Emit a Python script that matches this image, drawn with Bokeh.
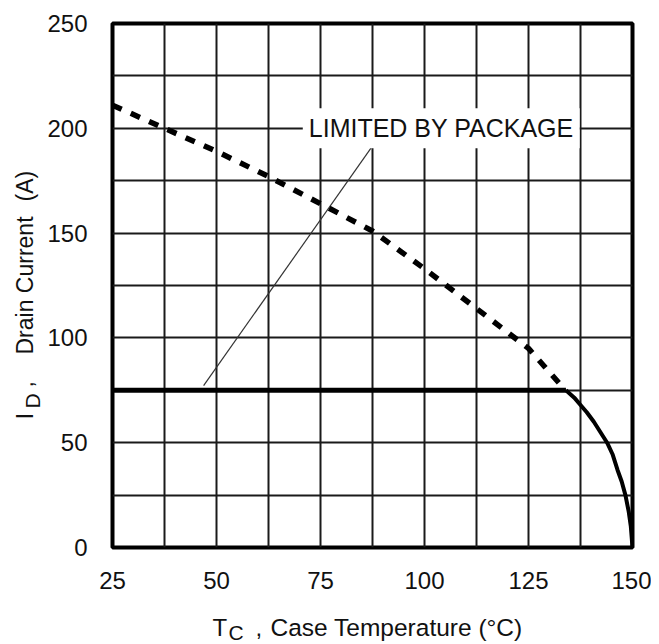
import math
from bokeh.plotting import figure
from bokeh.layouts import column, row
from bokeh.models import Label, Range1d, FixedTicker
from bokeh.core.properties import value
from bokeh.embed import file_html
from bokeh.resources import INLINE

# ---- data ----
# die-limited (dashed) current vs case temperature
die_temp = [25, 37.5, 50, 62.5, 75, 87.5, 100, 112.5, 125, 133]
die_current = [211, 200, 189, 177, 164, 151, 133, 114, 95, 77]

# package-limited flat line
pkg_temp = [25, 134]
pkg_current = [75, 75]

# derating curve down to Tj max
curve_temp = [134, 136, 137.5, 139, 140.7, 142.3, 143.9, 145.2, 146.4, 147.4, 148.3, 149.1, 149.6, 150]
curve_current = [75, 71.5, 68, 64.5, 60, 55, 50, 44.5, 37, 31.5, 25, 17, 10, 0]

# annotation pointer line
pointer_temp = [46.9, 87.3]
pointer_current = [77.2, 191]

x_ticks = [25, 50, 75, 100, 125, 150]
y_ticks = [0, 50, 100, 150, 200, 250]
x_grid = [37.5, 50, 62.5, 75, 87.5, 100, 112.5, 125, 137.5]
y_grid = [25, 50, 75, 100, 125, 150, 175, 200, 225]

annotation_text = "LIMITED BY PACKAGE"

FONT = "Liberation Sans"
INK = "#111111"

YL_W = 44          # width of the y-label strip
MAIN_W = 607
MAIN_H = 603
XL_H = 40
F_TOP, F_BOT = 23, 56          # frame borders (px) of the main chart
F_LEFT = 110 - YL_W
F_RIGHT = MAIN_W - F_LEFT - 522
FRAME_H = MAIN_H - F_TOP - F_BOT
SHIFT = 8                      # rendered text sits this much below the requested baseline

# ---------------- main chart ----------------
p = figure(width=MAIN_W, height=MAIN_H, title=None,
           x_range=Range1d(25, 150), y_range=Range1d(0, 250),
           output_backend="svg", toolbar_location=None,
           min_border_left=F_LEFT, min_border_right=F_RIGHT,
           min_border_top=F_TOP, min_border_bottom=F_BOT)

p.background_fill_color = "white"
p.border_fill_color = "white"
p.outline_line_color = "black"
p.outline_line_width = 4

for ax in (p.xaxis[0], p.yaxis[0]):
    ax.major_tick_line_color = None
    ax.minor_tick_line_color = None
    ax.major_tick_out = 0
    ax.major_tick_in = 0
    ax.minor_tick_out = 0
    ax.minor_tick_in = 0
    ax.axis_line_color = None
    ax.major_label_text_font = FONT
    ax.major_label_text_font_size = "24px"
    ax.major_label_text_color = INK

p.xaxis.ticker = FixedTicker(ticks=x_ticks)
p.yaxis.ticker = FixedTicker(ticks=y_ticks)
p.xaxis.major_label_standoff = 24
p.yaxis.major_label_standoff = 25

p.xgrid.ticker = FixedTicker(ticks=x_grid)
p.ygrid.ticker = FixedTicker(ticks=y_grid)
for g in (p.xgrid[0], p.ygrid[0]):
    g.grid_line_color = "#1a1a1a"
    g.grid_line_width = 2
    g.grid_line_alpha = 1.0

p.line(pointer_temp, pointer_current, line_color="#333333", line_width=1.2)
p.line(die_temp, die_current, line_color="black", line_width=5.5, line_dash="10 10")
p.line(pkg_temp, pkg_current, line_color="black", line_width=5)
p.line(curve_temp, curve_current, line_color="black", line_width=4)

p.add_layout(Label(x=70.74, y=200, text=annotation_text,
                   text_font=FONT, text_font_size="25px", text_color=INK,
                   text_align="left", text_baseline="middle",
                   background_fill_color="white", padding=6))

# ---------------- y-axis label strip (frame aligned with main frame) ----------------
yl = figure(width=YL_W, height=MAIN_H, title=None,
            x_range=Range1d(0, YL_W), y_range=Range1d(0, 250),
            x_axis_type=None, y_axis_type=None,
            output_backend="svg", toolbar_location=None,
            min_border_left=0, min_border_right=0,
            min_border_top=F_TOP, min_border_bottom=F_BOT)
yl.outline_line_color = None
yl.background_fill_color = "white"
yl.border_fill_color = "white"
yl.grid.visible = False

def ytxt(px, py, s, size):
    yv = 250 - (py - F_TOP) * 250 / FRAME_H
    yl.text(x=[px - SHIFT], y=[yv], text=[s], angle=math.pi / 2,
            text_font=value(FONT), text_font_size=value(size), text_color=INK,
            text_align="left", text_baseline="alphabetic")

ytxt(32, 419, "I", "24px")
ytxt(40, 408, "D", "21px")
ytxt(32, 387, ",", "23px")
ytxt(32, 354, "Drain Current", "23px")
ytxt(32, 201, "(A)", "23px")

# ---------------- x-axis label strip ----------------
TOTAL_W = YL_W + MAIN_W
xl = figure(width=TOTAL_W, height=XL_H, title=None,
            x_range=Range1d(0, TOTAL_W), y_range=Range1d(0, XL_H),
            x_axis_type=None, y_axis_type=None,
            output_backend="svg", toolbar_location=None, min_border=0)
xl.outline_line_color = None
xl.background_fill_color = "white"
xl.border_fill_color = "white"
xl.grid.visible = False

TOP = MAIN_H  # page y of the strip's top

def xtxt(px, py, s, size):
    xl.text(x=[px], y=[TOP + XL_H - (py - SHIFT)], text=[s],
            text_font=value(FONT), text_font_size=value(size), text_color=INK,
            text_align="left", text_baseline="alphabetic")

xtxt(212, 635, "T", "24px")
xtxt(228, 640, "C", "21px")
xtxt(255, 635, ",", "24px")
xtxt(270, 635, "Case Temperature (°C)", "24.5px")

layout = column(row(yl, p, spacing=0), xl, spacing=0)

open("out.html", "w").write(file_html(layout, INLINE))
